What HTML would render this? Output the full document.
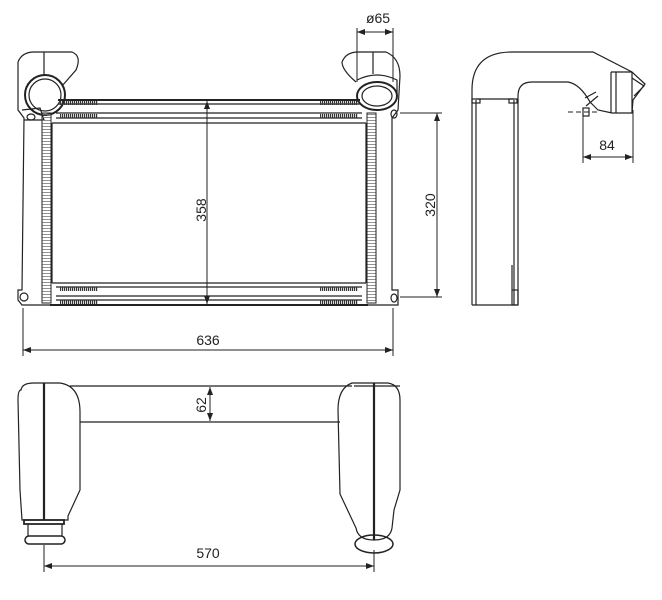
<!DOCTYPE html>
<html><head><meta charset="utf-8"><style>
html,body{margin:0;padding:0;background:#fff;}
svg{display:block}
text{font-family:"Liberation Sans",sans-serif;font-size:14px;fill:#222}
</style></head><body>
<svg width="662" height="600" viewBox="0 0 662 600" xmlns="http://www.w3.org/2000/svg">
<defs>
<pattern id="hz" width="2" height="4" patternUnits="userSpaceOnUse"><rect width="1.2" height="4" fill="#333"/></pattern>
<pattern id="vt" width="4" height="3" patternUnits="userSpaceOnUse"><rect width="4" height="0.8" fill="#777"/></pattern>
<marker id="ar" markerWidth="8" markerHeight="6" refX="8" refY="3" orient="auto-start-reverse" markerUnits="userSpaceOnUse"><path d="M0,0 L8,3 L0,6 z" fill="#222"/></marker>
</defs>
<g fill="none" stroke="#222" stroke-width="1.2">
<path d="M18,62 Q22,52 34,52 L72,52 Q82,56 76,70 L62,86" />
<path d="M18,62 L18,110 L24,118 L22,290 L18,290 L18,300 L22,305 L50,305"/>
<line x1="44" y1="52" x2="44" y2="76"/>
<circle cx="45" cy="95" r="20" stroke-width="2"/>
<circle cx="45" cy="95" r="16"/>
<ellipse cx="31" cy="117" rx="4" ry="3"/>
<path d="M22,110 L40,108 L44,120 L24,120"/>
<ellipse cx="24" cy="297" rx="4" ry="4"/>
<path d="M342,62 Q346,52 358,52 L386,52 Q400,58 400,76 L398,110 L392,118 L392,290 L398,290 L398,305 L368,305"/>
<path d="M342,62 Q342,70 356,82"/>
<line x1="373" y1="52" x2="373" y2="74"/>
<path d="M357,80 Q377,70 397,80 L397,96"/>
<ellipse cx="377" cy="96" rx="20" ry="14" stroke-width="2"/>
<ellipse cx="377" cy="96" rx="15" ry="10"/>
<ellipse cx="394" cy="114" rx="3" ry="4"/>
<ellipse cx="394" cy="298" rx="3" ry="4"/>
<rect x="42" y="113" width="9" height="190" fill="url(#vt)" stroke-width="1"/>
<rect x="367" y="113" width="9" height="190" fill="url(#vt)" stroke-width="1"/>
<line x1="58" y1="100" x2="360" y2="100" stroke-width="2"/>
<line x1="58" y1="104" x2="360" y2="104"/>
<line x1="56" y1="113" x2="362" y2="113"/>
<line x1="56" y1="118" x2="362" y2="118"/>
<line x1="52" y1="123" x2="366" y2="123"/>
<line x1="52" y1="283" x2="366" y2="283"/>
<line x1="56" y1="287" x2="362" y2="287"/>
<line x1="56" y1="296" x2="362" y2="296"/>
<line x1="56" y1="300" x2="362" y2="300"/>
<line x1="50" y1="305" x2="368" y2="305" stroke-width="2"/>
<line x1="52" y1="123" x2="52" y2="283"/>
<line x1="366" y1="123" x2="366" y2="283"/>
</g>
<g stroke="none" fill="url(#hz)">
<rect x="60" y="101" width="38" height="4"/><rect x="60" y="114" width="38" height="4"/>
<rect x="320" y="101" width="38" height="4"/><rect x="320" y="114" width="38" height="4"/>
<rect x="60" y="287" width="38" height="4"/><rect x="60" y="300" width="38" height="4"/>
<rect x="320" y="287" width="38" height="4"/><rect x="320" y="300" width="38" height="4"/>
</g>
<g fill="none" stroke="#222" stroke-width="1">
<line x1="207" y1="101" x2="207" y2="304" marker-start="url(#ar)" marker-end="url(#ar)"/>
<line x1="400" y1="113" x2="442" y2="113"/>
<line x1="400" y1="297" x2="442" y2="297"/>
<line x1="437" y1="113" x2="437" y2="297" marker-start="url(#ar)" marker-end="url(#ar)"/>
<line x1="23" y1="308" x2="23" y2="356"/>
<line x1="393" y1="308" x2="393" y2="356"/>
<line x1="23" y1="350" x2="393" y2="350" marker-start="url(#ar)" marker-end="url(#ar)"/>
<line x1="357" y1="28" x2="357" y2="82"/>
<line x1="393" y1="28" x2="393" y2="82"/>
<line x1="357" y1="32" x2="393" y2="32" marker-start="url(#ar)" marker-end="url(#ar)"/>
</g>
<text x="201" y="215" transform="rotate(-90 201 210)" text-anchor="middle">358</text>
<text x="430" y="210" transform="rotate(-90 430 205)" text-anchor="middle">320</text>
<text x="208" y="345" text-anchor="middle">636</text>
<text x="378" y="23" text-anchor="middle">ø65</text>

<g fill="none" stroke="#222" stroke-width="1.2">
<path d="M472,305 L472,90 Q472,52 512,52 L593,52 L632,72 L645,84 L633,100 L632,113 L612,113 L598,110 L590,102"/>
<path d="M518,305 L518,96 Q518,82 532,82 L568,82 Q580,84 590,102"/>
<path d="M476,305 L476,100 M514,305 L514,100"/>
<line x1="476" y1="99" x2="514" y2="99"/>
<rect x="472" y="99" width="8" height="4"/><rect x="509" y="99" width="8" height="4"/>
<line x1="472" y1="305" x2="518" y2="305"/>
<path d="M611,72 L611,113 M616,72 L616,113 M611,72 L632,72 M632,72 L632,113"/>
<path d="M632,78 L644,86 L634,96"/>
<line x1="512" y1="265" x2="512" y2="290"/>
<rect x="512" y="290" width="6" height="15"/>
<path d="M585,98 L596,92 M586,106 L598,96"/>
<rect x="583" y="108" width="6" height="8"/>
</g>
<g fill="none" stroke="#222" stroke-width="1">
<line x1="568" y1="112" x2="600" y2="112" stroke-dasharray="5,3"/>
<line x1="583" y1="110" x2="583" y2="163"/>
<line x1="633" y1="110" x2="633" y2="163"/>
<line x1="583" y1="157" x2="633" y2="157" marker-start="url(#ar)" marker-end="url(#ar)"/>
</g>
<text x="607" y="150" text-anchor="middle">84</text>

<g fill="none" stroke="#222" stroke-width="1.2">
<path d="M21,390 Q22,383 34,383 L60,383 Q80,386 80,412 L80,490 L68,516 L68,520 L22,520 L20,490 L18,400 Q18,390 21,390 Z"/>
<line x1="44" y1="383" x2="44" y2="520" stroke-width="2.2"/>
<path d="M24,520 L64,520 L64,524 L24,524 Z" stroke-width="1.8"/>
<path d="M28,524 L28,536 M62,524 L62,536"/>
<rect x="25" y="536" width="40" height="8" rx="4" stroke-width="1.5"/>
<path d="M352,383 L388,383 Q400,385 400,400 L400,490 L394,510 L392,528 Q390,540 374,540 Q358,540 356,528 L340,494 L338,410 Q338,388 352,383 Z"/>
<line x1="374" y1="383" x2="374" y2="540" stroke-width="2.2"/>
<ellipse cx="374" cy="544" rx="19" ry="9" stroke-width="1.5"/>
<line x1="70" y1="386" x2="352" y2="386"/>
<line x1="80" y1="422" x2="340" y2="422"/>
<line x1="354" y1="386" x2="400" y2="386"/>
</g>
<g fill="none" stroke="#222" stroke-width="1">
<line x1="210" y1="387" x2="210" y2="421" marker-start="url(#ar)" marker-end="url(#ar)"/>
<line x1="44" y1="545" x2="44" y2="572"/>
<line x1="374" y1="550" x2="374" y2="572"/>
<line x1="44" y1="566" x2="374" y2="566" marker-start="url(#ar)" marker-end="url(#ar)"/>
</g>
<text x="201" y="410" transform="rotate(-90 201 405)" text-anchor="middle">62</text>
<text x="208" y="558" text-anchor="middle">570</text>
</svg>
</body></html>
